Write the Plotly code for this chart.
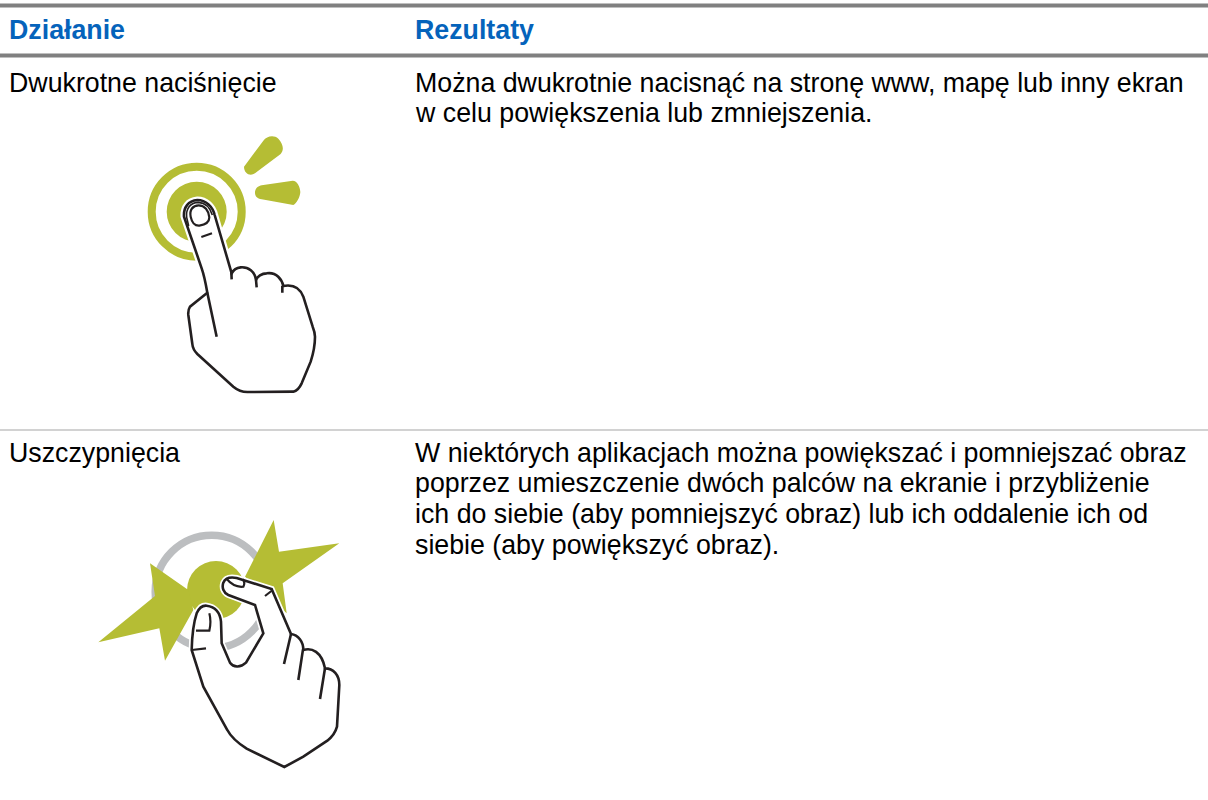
import re
import plotly.graph_objects as go

FONT = "Liberation Sans"
INK = "#231F20"
GREEN = "#B5BD34"
RING_GREY = "#BCBEC0"
RULE = "#808080"
THIN = "#A6A6A6"
BLUE = "#0563BB"

headers = ["Działanie", "Rezultaty"]
row1_action = "Dwukrotne naciśnięcie"
row1_result = ["Można dwukrotnie nacisnąć na stronę www, mapę lub inny ekran",
               "w celu powiększenia lub zmniejszenia."]
row2_action = "Uszczypnięcia"
row2_result = ["W niektórych aplikacjach można powiększać i pomniejszać obraz",
               "poprzez umieszczenie dwóch palców na ekranie i przybliżenie",
               "ich do siebie (aby pomniejszyć obraz) lub ich oddalenie ich od",
               "siebie (aby powiększyć obraz)."]

TAP_ORIGIN = (120, 120)
tap_spark_upper = "M372 140 L430 62 C440 48 462 44 475 56 C488 70 494 88 482 102 L405 160 C390 170 372 160 372 140 Z"
tap_spark_lower = "M405 215 C408 202 416 198 425 196 L518 182 C532 182 540 200 541 216 C540 232 530 250 520 255 L425 238 C412 236 404 228 405 215 Z"
tap_hand = ("M262 518 L210 560 C205 568 204 575 205 585 L217 672 C218 685 222 692 232 702 "
            "L340 800 C352 810 365 816 382 816 L520 815 C532 812 538 805 545 790 L572 725 "
            "C580 700 585 675 585 650 C585 638 582 630 578 620 L550 530 C540 505 522 492 490 498 "
            "C486 480 470 455 440 460 C425 460 412 470 408 480 C405 455 385 440 362 442 "
            "C350 443 340 450 335 460 L284 285 C278 260 258 240 232 240 C205 242 190 262 192 290 "
            "L245 445 C252 465 258 495 262 518 Z")
tap_finger_line = "M335 478 L334 455 M262 518 L290 650"
tap_knuckles = "M408 480 L410 502 M487 497 L487 518"
tap_tip_inner = "M206 318 L200 292 C197 266 212 247 235 247 C255 248 270 262 277 285"
tap_nail = "M212 290 C208 270 218 256 236 256 C254 256 266 272 268 292 C268 306 258 314 238 317 C222 318 216 308 212 290 Z"
tap_crease = "M244 351 L276 340"

PINCH_ORIGIN = (90, 510)
pinch_star_left = "M25 397 L195 258 L180 160 L295 240 L310 300 L225 452 L208 355 Z"
pinch_star_right = "M748 100 L567 125 L551 30 L465 200 L590 310 L578 220 Z"
pinch_hand = ("M305 420 C306 380 310 340 320 310 C328 292 340 286 350 287 C372 290 390 305 393 335 "
              "L395 400 L420 458 C430 472 450 475 468 458 L520 370 L495 285 L415 255 "
              "C400 248 395 232 400 218 C406 204 420 200 440 204 L545 237 L603 372 "
              "C625 375 640 395 640 420 C665 412 695 425 705 475 C730 475 748 495 748 525 "
              "L741 650 C735 672 725 682 712 692 L640 740 L583 771 L470 716 C445 700 425 685 412 660 "
              "L340 530 Z")
pinch_lines = "M603 372 L582 462 M639 418 L625 510 M705 475 L690 567"
pinch_nails = ("M318 362 L358 362 C362 345 362 325 358 310 M305 420 L348 415 "
               "M408 205 C425 225 445 232 460 230 C465 220 462 212 458 208 M525 258 L548 240")


def to_page(origin, d):
    """Turn crop coordinates of a 3x zoom into page coordinates."""
    count = [0]

    def repl(m):
        i = count[0] % 2
        count[0] += 1
        return f"{origin[i] + float(m.group()) / 3:.2f}"

    return re.sub(r"-?\d+\.?\d*", repl, d)


shapes = []


def outline(origin, d, fill=None, color=INK, width=2.6):
    shapes.append(dict(type="path", xref="x", yref="y", path=to_page(origin, d),
                       fillcolor=fill or "rgba(0,0,0,0)",
                       line=dict(color=color, width=width)))


def disk(cx, cy, r, fill=None, color=None, width=0):
    shapes.append(dict(type="circle", xref="x", yref="y", x0=cx - r, x1=cx + r, y0=cy - r, y1=cy + r,
                       fillcolor=fill or "rgba(0,0,0,0)",
                       line=dict(color=color or "rgba(0,0,0,0)", width=width)))


def rule(y0, y1, color):
    shapes.append(dict(type="rect", xref="x", yref="y", x0=0, x1=1208, y0=y0, y1=y1,
                       fillcolor=color, line=dict(width=0)))


rule(3.5, 7.5, RULE)
rule(53.5, 57.5, RULE)
rule(429.5, 430.5, THIN)

# Tap icon
disk(196.7, 211.7, 45, color=GREEN, width=8)
disk(196.7, 211.7, 30, fill=GREEN)
outline(TAP_ORIGIN, tap_spark_upper, fill=GREEN, color=GREEN, width=0)
outline(TAP_ORIGIN, tap_spark_lower, fill=GREEN, color=GREEN, width=0)
outline(TAP_ORIGIN, tap_hand, fill="#FFFFFF", color="#FFFFFF", width=7)
outline(TAP_ORIGIN, tap_hand, fill="#FFFFFF")
outline(TAP_ORIGIN, tap_finger_line)
outline(TAP_ORIGIN, tap_knuckles)
outline(TAP_ORIGIN, tap_tip_inner, width=1.6)
outline(TAP_ORIGIN, tap_nail, width=2.2)
outline(TAP_ORIGIN, tap_crease, width=2.2)

# Pinch icon
disk(211.7, 591.7, 56.5, color=RING_GREY, width=7.5)
disk(216, 590, 29, fill=GREEN)
outline(PINCH_ORIGIN, pinch_star_left, fill=GREEN, color=GREEN, width=0)
outline(PINCH_ORIGIN, pinch_star_right, fill=GREEN, color=GREEN, width=0)
outline(PINCH_ORIGIN, pinch_hand, fill="#FFFFFF", color="#FFFFFF", width=6)
outline(PINCH_ORIGIN, pinch_hand, fill="#FFFFFF")
outline(PINCH_ORIGIN, pinch_lines)
outline(PINCH_ORIGIN, pinch_nails, width=2.2)

annotations = []


def text(x, y, s, bold=False, color="#000000", size=26.75):
    annotations.append(dict(x=x, y=y, xref="x", yref="y", text=f"<b>{s}</b>" if bold else s,
                            showarrow=False, xanchor="left", yanchor="middle", align="left",
                            borderpad=0, font=dict(family=FONT, size=size, color=color)))


LEFT_X, RIGHT_X = 7.5, 413.5
text(LEFT_X, 30, headers[0], bold=True, color=BLUE)
text(RIGHT_X, 30, headers[1], bold=True, color=BLUE)
text(LEFT_X, 83, row1_action)
for y, line in zip([83, 113], row1_result):
    text(RIGHT_X, y, line)
text(LEFT_X, 452.5, row2_action)
for y, line in zip([452.5, 483, 514, 545], row2_result):
    text(RIGHT_X, y, line)

fig = go.Figure()
fig.add_trace(go.Scatter(x=[0, 1208], y=[0, 800], mode="markers", marker=dict(opacity=0), hoverinfo="skip"))
fig.update_layout(width=1208, height=800, margin=dict(l=0, r=0, t=0, b=0), showlegend=False,
                  paper_bgcolor="#FFFFFF", plot_bgcolor="#FFFFFF", shapes=shapes, annotations=annotations,
                  xaxis=dict(visible=False, range=[0, 1208], fixedrange=True),
                  yaxis=dict(visible=False, range=[800, 0], fixedrange=True))
fig.write_html("out.html", config={"displayModeBar": False},
               post_script="document.body.style.margin='0';")
